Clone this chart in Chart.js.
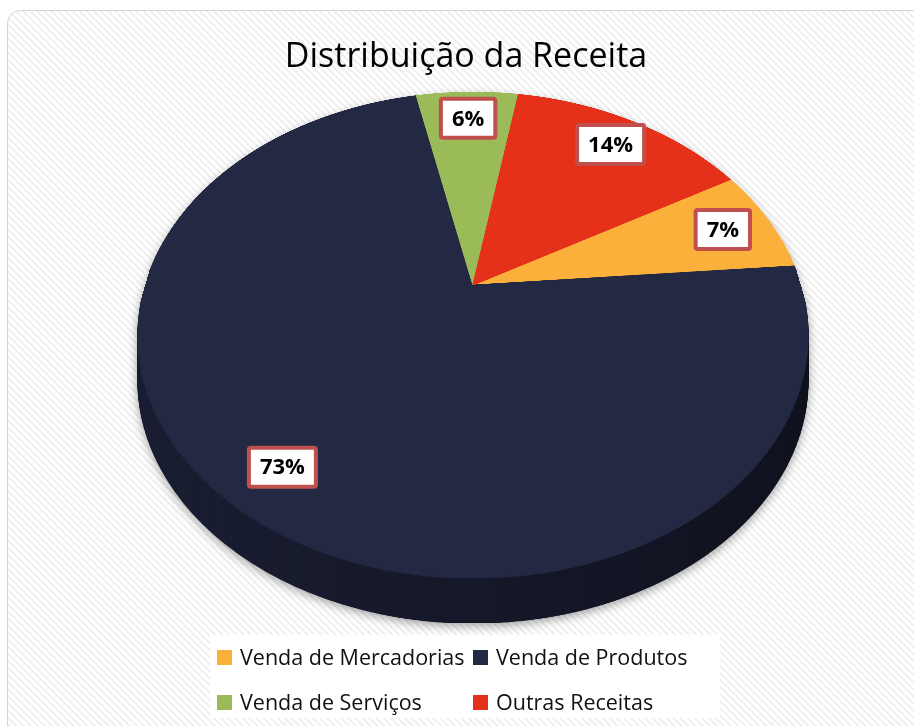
<!DOCTYPE html>
<html><head><meta charset="utf-8">
<script src="https://cdn.jsdelivr.net/npm/chart.js@4.4.1/dist/chart.umd.min.js"></script>
<style>
html,body{margin:0;padding:0;width:914px;height:726px;overflow:hidden;background:#fff;}
#bg{position:absolute;left:7px;top:10px;width:940px;height:760px;border:1.5px solid #d6d6d6;border-radius:13px;
background:repeating-linear-gradient(45deg,#ffffff 0px,#ffffff 1.5px,#efefef 2.5px,#efefef 3.5px,#ffffff 4.5px,#ffffff 5px);}
#c{position:absolute;left:0;top:0;}
</style></head><body>
<div id="bg"></div>
<canvas id="c" width="914" height="726"></canvas>
<script>
const chartTitle = 'Distribuição da Receita';
const categories = ['Venda de Mercadorias', 'Venda de Produtos', 'Venda de Serviços', 'Outras Receitas'];
const shares = [7, 73, 6, 14];
const sliceColors = ['#FBB03B', '#232843', '#9BBB59', '#E5301A'];

// perspective geometry of the 3D pie (projection of the unit disk)
const GEO = {cx: 473, cy: 285, A: 327.8, B: 232.7, c: -0.2058, depth: 45, labelR: 0.84, ss: 3};
function proj(u, v) { const d = 1 + GEO.c * v; return {x: GEO.cx + GEO.A * u / d, y: GEO.cy + GEO.B * v / d}; }

const pie3d = {
  id: 'pie3d',
  beforeDatasetsDraw(chart) {
    const ctx = chart.ctx;
    const arcs = chart.getDatasetMeta(0).data;
    const a0 = arcs[0];
    const R = a0.outerRadius, ox = a0.x, oy = a0.y;
    const N = 1400, K = N / (2 * R);
    const off = document.createElement('canvas'); off.width = N; off.height = N;
    const oc = off.getContext('2d');
    oc.setTransform(K, 0, 0, K, -K * (ox - R), -K * (oy - R));
    arcs.forEach(a => a.draw(oc));
    const W = chart.width, H = chart.height, S = GEO.ss;
    const face = document.createElement('canvas'); face.width = W * S; face.height = H * S;
    const fc = face.getContext('2d');
    fc.imageSmoothingEnabled = true; fc.imageSmoothingQuality = 'high';
    const yT = proj(0, -1).y, yB = proj(0, 1).y;
    const vAt = y => { const d = y - GEO.cy; return d / (GEO.B - GEO.c * d); };
    for (let r = Math.floor(yT * S) - 1; r <= Math.ceil(yB * S) + 1; r++) {
      let v0 = vAt(r / S), v1 = vAt((r + 1) / S);
      if (v1 <= -1 || v0 >= 1) continue;
      const cov = (Math.min(v1, 1) - Math.max(v0, -1)) / (v1 - v0);
      v0 = Math.max(v0, -1); v1 = Math.min(v1, 1);
      const vm = (v0 + v1) / 2, s = GEO.A / (1 + GEO.c * vm);
      const sy = (v0 + 1) / 2 * N, sh = Math.max((v1 - v0) / 2 * N, 0.05);
      fc.globalAlpha = Math.min(1, cov);
      fc.drawImage(off, 0, sy, N, sh, (GEO.cx - s) * S, r, 2 * s * S, 1);
    }
    fc.globalAlpha = 1;
    // side wall
    const side = document.createElement('canvas'); side.width = W; side.height = H;
    const sc = side.getContext('2d');
    for (let k = GEO.depth; k >= 1; k--) sc.drawImage(face, 0, k, W, H);
    sc.globalCompositeOperation = 'source-atop';
    const g = sc.createLinearGradient(GEO.cx - GEO.A, 0, GEO.cx + GEO.A, 0);
    g.addColorStop(0, 'rgba(0,0,0,0.25)'); g.addColorStop(1, 'rgba(0,0,0,0.55)');
    sc.fillStyle = g; sc.fillRect(0, 0, W, H);
    ctx.save();
    ctx.shadowColor = 'rgba(0,0,0,0.35)'; ctx.shadowBlur = 10; ctx.shadowOffsetY = 3;
    ctx.drawImage(side, 0, 0);
    ctx.restore();
    ctx.drawImage(face, 0, 0, W, H);
    return false;
  },
  afterDraw(chart) {
    const ctx = chart.ctx;
    const arcs = chart.getDatasetMeta(0).data;
    const total = shares.reduce((a, b) => a + b, 0);
    ctx.save();
    ctx.font = 'bold 22px "Open Sans"'; ctx.textAlign = 'center'; ctx.textBaseline = 'middle';
    arcs.forEach((a, i) => {
      const m = (a.startAngle + a.endAngle) / 2;
      const p = proj(GEO.labelR * Math.cos(m), GEO.labelR * Math.sin(m));
      const txt = Math.round(shares[i] / total * 100) + '%';
      const w = ctx.measureText(txt).width + 22, h = 39;
      ctx.fillStyle = '#fff';
      ctx.fillRect(p.x - w / 2, p.y - h / 2, w, h);
      ctx.lineWidth = 4; ctx.strokeStyle = '#C0504D';
      ctx.beginPath(); ctx.roundRect(p.x - w / 2, p.y - h / 2, w, h, 2); ctx.stroke();
      ctx.fillStyle = '#000';
      ctx.fillText(txt, p.x, p.y + 1);
    });
    // legend
    ctx.fillStyle = '#fff'; ctx.fillRect(210, 635, 510, 83);
    const cols = [217, 473], rows = [658, 703];
    ctx.font = '21.5px "Open Sans"'; ctx.textAlign = 'left'; ctx.textBaseline = 'middle';
    categories.forEach((lab, i) => {
      const x = cols[i % 2], y = rows[Math.floor(i / 2)];
      ctx.fillStyle = sliceColors[i]; ctx.fillRect(x, y - 8, 15, 15);
      ctx.fillStyle = '#111'; ctx.fillText(lab, x + 23, y + 1);
    });
    ctx.restore();
  }
};

new Chart(document.getElementById('c'), {
  type: 'pie',
  data: {labels: categories, datasets: [{data: shares, backgroundColor: sliceColors, borderColor: sliceColors, borderWidth: 1}]},
  options: {
    responsive: false, animation: false, events: [], rotation: 60,
    layout: {padding: {left: 18, top: 0, bottom: 100}},
    plugins: {
      legend: {display: false}, tooltip: {enabled: false},
      title: {display: true, text: chartTitle, color: '#000',
        font: {family: 'Open Sans', size: 34, weight: 'normal'}, padding: {top: 37, bottom: 10}}
    }
  },
  plugins: [pie3d]
});
</script>
</body></html>
